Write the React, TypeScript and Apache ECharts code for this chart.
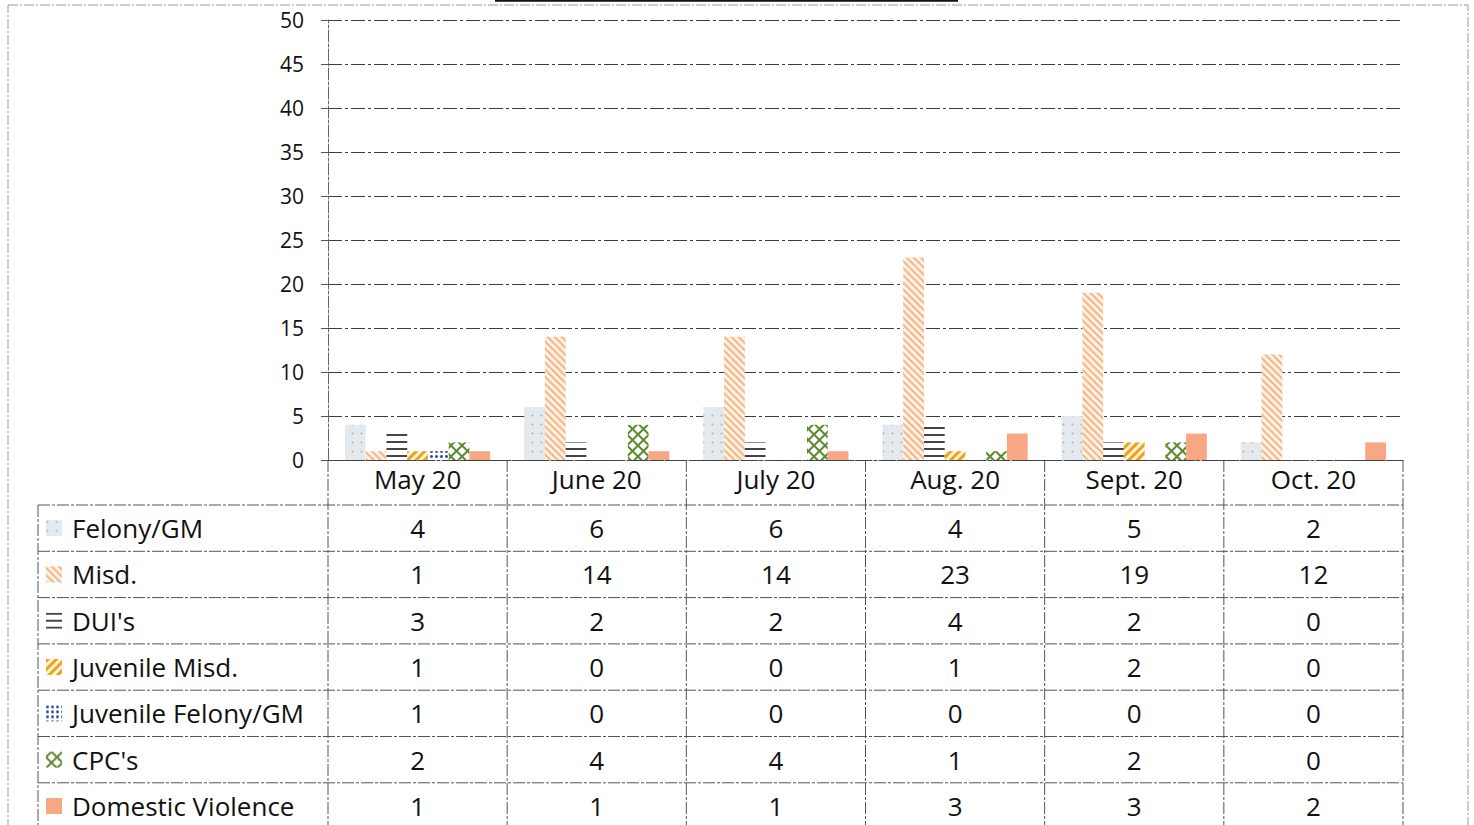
import React, { useEffect, useRef } from "react";
import * as echarts from "echarts";

const months = ["May 20", "June 20", "July 20", "Aug. 20", "Sept. 20", "Oct. 20"];
const seriesNames = ["Felony/GM", "Misd.", "DUI's", "Juvenile Misd.", "Juvenile Felony/GM", "CPC's", "Domestic Violence"];
const felony = [4, 6, 6, 4, 5, 2];
const misd = [1, 14, 14, 23, 19, 12];
const duis = [3, 2, 2, 4, 2, 0];
const juvMisd = [1, 0, 0, 1, 2, 0];
const juvFelony = [1, 0, 0, 0, 0, 0];
const cpcs = [2, 4, 4, 1, 2, 0];
const domestic = [1, 1, 1, 3, 3, 2];
const yTicks = { min: 0, max: 50, interval: 5 };

const allData = [felony, misd, duis, juvMisd, juvFelony, cpcs, domestic];

const FONT = "Open Sans";
const TABLE_FS = 26;

const styles: any[] = [
  { color: "#e4e9ee", decal: { symbol: "circle", symbolSize: 0.6, dashArrayX: [3, 6], dashArrayY: [3, 6], color: "#a7b0ba" } },
  { color: "#fdf0e4", decal: { symbol: "rect", symbolSize: 1, dashArrayX: [1, 0], dashArrayY: [1.5, 3], rotation: Math.PI / 4, color: "#f5b684" } },
  { color: "#ffffff", decal: { symbol: "rect", symbolSize: 1, dashArrayX: [1, 0], dashArrayY: [1.2, 4.5], rotation: 0, color: "#444444" } },
  { color: "#fff3d8", decal: { symbol: "rect", symbolSize: 1, dashArrayX: [1, 0], dashArrayY: [3, 2.5], rotation: -Math.PI / 4, color: "#eea21b" } },
  { color: "#ffffff", decal: { symbol: "circle", symbolSize: 1, dashArrayX: [2.5, 2], dashArrayY: [2.5, 2], color: "#2d4e9a" } },
  { color: "#ffffff", decal: { symbol: "emptyDiamond", symbolSize: 1, dashArrayX: [11, 0], dashArrayY: [11, 0], color: "#5b8a2d" } },
  { color: "#f7a784" },
];

export default function App() {
  const ref = useRef<HTMLDivElement>(null);
  useEffect(() => {
    if (!ref.current) return;
    const chart = echarts.init(ref.current, null, { renderer: "svg" });

    const gridLeft = 328;
    const gridRight = 1403;
    const gridTop = 20;
    const baseY = 460;
    const colW = (gridRight - gridLeft) / months.length;
    const headBottom = 505;
    const rowH = 46.3;
    const tableLeft = 38;
    const tableBottom = 830;
    const lineStyle = { stroke: "#555", lineWidth: 1, lineDash: [12, 2, 3, 2] };

    const graphics: any[] = [];
    graphics.push({ type: "rect", shape: { x: 8, y: 5, width: 1460, height: 840 }, style: { fill: "none", stroke: "#999", lineWidth: 1, lineDash: [10, 2, 2, 2] } });
    graphics.push({ type: "line", shape: { x1: 495, y1: 0.8, x2: 958, y2: 0.8 }, style: { stroke: "#111", lineWidth: 2 } });
    for (let i = 0; i <= seriesNames.length; i++) {
      const y = headBottom + i * rowH;
      graphics.push({ type: "line", shape: { x1: tableLeft, y1: y, x2: gridRight, y2: y }, style: lineStyle });
    }
    graphics.push({ type: "line", shape: { x1: tableLeft, y1: headBottom, x2: tableLeft, y2: tableBottom }, style: lineStyle });
    for (let k = 0; k <= months.length; k++) {
      const x = gridLeft + k * colW;
      graphics.push({ type: "line", shape: { x1: x, y1: baseY, x2: x, y2: tableBottom }, style: lineStyle });
    }
    allData.forEach((arr, i) => {
      arr.forEach((v, j) => {
        graphics.push({
          type: "text",
          x: gridLeft + (j + 0.5) * colW,
          y: headBottom + (i + 0.5) * rowH,
          style: { text: String(v), fontSize: TABLE_FS, fontFamily: FONT, fill: "#111", textAlign: "center", textVerticalAlign: "middle" },
        });
      });
    });

    chart.setOption({
      animation: false,
      backgroundColor: "#ffffff",
      grid: { left: gridLeft, right: 1474 - gridRight, top: gridTop, bottom: 825 - baseY, containLabel: false },
      legend: {
        orient: "vertical",
        left: 46,
        top: headBottom + (rowH - 28) / 2,
        itemWidth: 16,
        itemHeight: 16,
        itemGap: rowH - 28,
        icon: "rect",
        selectedMode: false,
        padding: 0,
        textStyle: { fontSize: TABLE_FS, fontFamily: FONT, color: "#111", lineHeight: 28, padding: [0, 0, 0, 5] },
        data: seriesNames,
      },
      xAxis: {
        type: "category",
        data: months,
        axisLine: { show: true, lineStyle: { color: "#444", type: [12, 2, 3, 2] } },
        axisTick: { show: false },
        axisLabel: { fontSize: TABLE_FS, fontFamily: FONT, color: "#111", margin: 6 },
      },
      yAxis: {
        type: "value",
        min: yTicks.min,
        max: yTicks.max,
        interval: yTicks.interval,
        axisLine: { show: true, lineStyle: { color: "#666", type: [12, 2, 3, 2] } },
        axisTick: { show: true, length: 7, lineStyle: { color: "#555" } },
        axisLabel: { fontSize: 21, fontFamily: FONT, color: "#111", margin: 24 },
        splitLine: { show: true, lineStyle: { color: "#3c3c3c", width: 1, type: [14, 3, 3, 3] } },
      },
      series: seriesNames.map((name, i) => ({
        name,
        type: "bar",
        data: allData[i],
        barGap: "0%",
        barCategoryGap: "19%",
        itemStyle: styles[i],
      })),
      graphic: graphics,
    });
    return () => chart.dispose();
  }, []);
  return <div ref={ref} style={{ position: "fixed", left: 0, top: 0, width: 1474, height: 825 }} />;
}
